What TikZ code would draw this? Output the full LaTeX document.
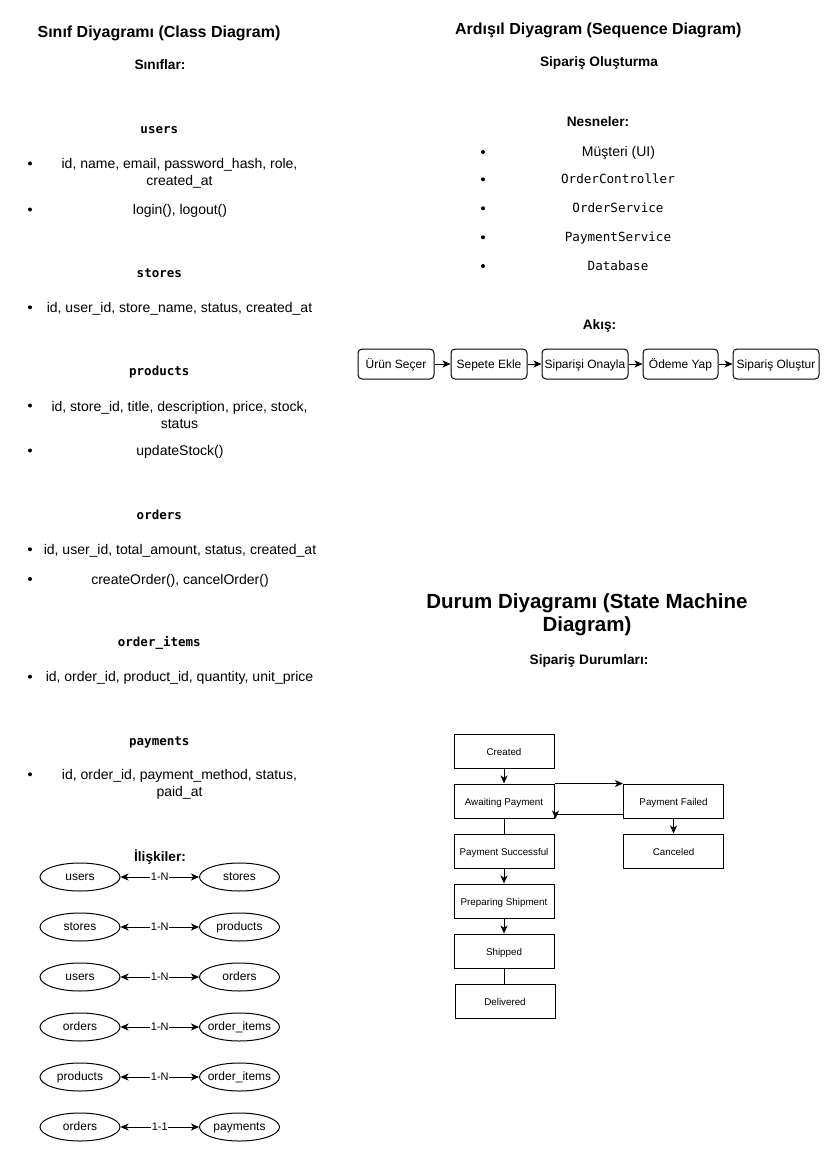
\documentclass[tikz,border=0pt]{standalone}
\usepackage{fontspec}
\setmainfont{Liberation Sans}
\setmonofont{DejaVu Sans Mono}
\usetikzlibrary{arrows.meta,shapes.geometric}
% zero-width box so that an ellipse keeps its own size around a long label
\newcommand{\entlabel}[1]{\makebox[0pt]{#1}}

\begin{document}
\begin{tikzpicture}[x=1pt,y=-1pt,line width=1pt,
  >={Stealth[length=8pt,width=7pt,inset=2.2pt]},
  heading/.style={font=\bfseries\fontsize{16}{19}\selectfont,text height=11.5pt,text depth=3.5pt,inner sep=0pt,yshift=-1.5pt},
  bighead/.style={font=\bfseries\fontsize{20.5}{22.5}\selectfont,align=center,inner sep=0pt,yshift=-2pt},
  subhead/.style={font=\bfseries\fontsize{13.7}{16.5}\selectfont,text height=10pt,text depth=3pt,inner sep=0pt,yshift=-1.5pt},
  classname/.style={font=\ttfamily\bfseries\fontsize{12.5}{15}\selectfont,text height=9pt,text depth=2.5pt,inner sep=0pt,yshift=-1.2pt},
  item/.style={font=\fontsize{14}{17}\selectfont,align=center,inner sep=0pt,yshift=-1.5pt},
  dot/.style={circle,fill=black,draw=none,inner sep=0pt,minimum size=4pt},
  objname/.style={font=\ttfamily\fontsize{12.6}{15}\selectfont,text height=9pt,text depth=2.5pt,inner sep=0pt,yshift=-1pt},
  flowbox/.style={draw,rounded corners=4pt,minimum height=30pt,inner xsep=1pt,font=\fontsize{12}{14}\selectfont,text height=9.6pt,text depth=1.5pt},
  statebox/.style={draw,minimum width=100pt,minimum height=34pt,inner sep=1pt,font=\fontsize{9.8}{12}\selectfont,text height=9pt,text depth=0pt},
  entity/.style={ellipse,draw,minimum width=80pt,minimum height=28pt,inner sep=0pt,font=\fontsize{12}{14}\selectfont,text height=9.2pt,text depth=1.9pt},
  card/.style={fill=white,inner sep=0.6pt,font=\fontsize{11}{13}\selectfont,text height=8pt,text depth=0.5pt}]

\fill[white] (0,0) rectangle (827,1169);
\useasboundingbox (0,0) rectangle (827,1169);

% ---------------- Class diagram ----------------
\node[heading] (ctitle) at (159,32) {Sınıf Diyagramı (Class Diagram)};
\node[subhead] (csub) at (160,65) {Sınıflar:};

\node[classname] (kusers) at (159.3,129.3) {users};
\node[dot] (b1) at (30,163.5) {};
\node[item] (i1) at (179.5,171.5) {id, name, email, password\_hash, role,\\created\_at};
\node[dot] (b2) at (30,209.5) {};
\node[item] (i2) at (180,209.5) {login(), logout()};

\node[classname] (kstores) at (159.3,273.5) {stores};
\node[dot] (b3) at (30,307.3) {};
\node[item] (i3) at (179.5,307.3) {id, user\_id, store\_name, status, created\_at};

\node[classname] (kproducts) at (159.3,371.5) {products};
\node[dot] (b4) at (30,405.5) {};
\node[item] (i4) at (179.5,413.8) {id, store\_id, title, description, price, stock,\\status};
\node[dot] (b5) at (30,450.5) {};
\node[item] (i5) at (180,450.5) {updateStock()};

\node[classname] (korders) at (159.3,515.5) {orders};
\node[dot] (b6) at (30,549.3) {};
\node[item] (i6) at (180,549.3) {id, user\_id, total\_amount, status, created\_at};
\node[dot] (b7) at (30,579) {};
\node[item] (i7) at (180,579) {createOrder(), cancelOrder()};

\node[classname] (kitems) at (159.3,642.5) {order\_items};
\node[dot] (b8) at (30,676.7) {};
\node[item] (i8) at (179.5,676.7) {id, order\_id, product\_id, quantity, unit\_price};

\node[classname] (kpay) at (159.3,741) {payments};
\node[dot] (b9) at (30,774.3) {};
\node[item] (i9) at (179.5,783) {id, order\_id, payment\_method, status,\\paid\_at};

% relations
\node[subhead] (rsub) at (160,856) {İlişkiler:};

\node[entity] (l1) at (80,877) {\entlabel{users}};
\node[entity] (r1) at (239.5,877) {\entlabel{stores}};
\node[entity] (l2) at (80,927) {\entlabel{stores}};
\node[entity] (r2) at (239.5,927) {\entlabel{products}};
\node[entity] (l3) at (80,977) {\entlabel{users}};
\node[entity] (r3) at (239.5,977) {\entlabel{orders}};
\node[entity] (l4) at (80,1027) {\entlabel{orders}};
\node[entity] (r4) at (239.5,1027) {\entlabel{order\_items}};
\node[entity] (l5) at (80,1077) {\entlabel{products}};
\node[entity] (r5) at (239.5,1077) {\entlabel{order\_items}};
\node[entity] (l6) at (80,1127) {\entlabel{orders}};
\node[entity] (r6) at (239.5,1127) {\entlabel{payments}};

\draw[<->] (l1) -- node[card] {1-N} (r1);
\draw[<->] (l2) -- node[card] {1-N} (r2);
\draw[<->] (l3) -- node[card] {1-N} (r3);
\draw[<->] (l4) -- node[card] {1-N} (r4);
\draw[<->] (l5) -- node[card] {1-N} (r5);
\draw[<->] (l6) -- node[card] {1-1} (r6);

% ---------------- Sequence diagram ----------------
\node[heading] (stitle) at (598.3,29.5) {Ardışıl Diyagram (Sequence Diagram)};
\node[subhead] (ssub) at (599,62) {Sipariş Oluşturma};
\node[subhead] (nsub) at (598,122) {Nesneler:};

\node[dot] (n1) at (483,152) {};
\node[item] (o1) at (618.5,151.5) {Müşteri (UI)};
\node[dot] (n2) at (483,179.3) {};
\node[objname] (o2) at (618,179) {OrderController};
\node[dot] (n3) at (483,208.3) {};
\node[objname] (o3) at (618,208) {OrderService};
\node[dot] (n4) at (483,237.3) {};
\node[objname] (o4) at (618,237) {PaymentService};
\node[dot] (n5) at (483,266) {};
\node[objname] (o5) at (618,266) {Database};

\node[subhead] (asub) at (599.5,324.5) {Akış:};

\node[flowbox,minimum width=76pt] (f1) at (396,364) {Ürün Seçer};
\node[flowbox,minimum width=76pt] (f2) at (489,364) {Sepete Ekle};
\node[flowbox,minimum width=86pt] (f3) at (585,364) {Siparişi Onayla};
\node[flowbox,minimum width=75pt] (f4) at (680.5,364) {Ödeme Yap};
\node[flowbox,minimum width=86pt] (f5) at (776,364) {Sipariş Oluştur};

\draw[->] (f1) -- (f2);
\draw[->] (f2) -- (f3);
\draw[->] (f3) -- (f4);
\draw[->] (f4) -- (f5);

% ---------------- State machine diagram ----------------
\node[bighead] (mtitle) at (587,612.5) {Durum Diyagramı (State Machine\\Diagram)};
\node[subhead] (msub) at (589,659) {Sipariş Durumları:};

\node[statebox] (cr) at (504,751) {Created};
\node[statebox] (aw) at (504,801) {Awaiting Payment};
\node[statebox] (ps) at (504,851) {Payment Successful};
\node[statebox] (pr) at (504,901) {Preparing Shipment};
\node[statebox] (sh) at (504,951) {Shipped};
\node[statebox] (de) at (505,1001) {Delivered};
\node[statebox] (pf) at (673.5,801) {Payment Failed};
\node[statebox] (ca) at (673.5,851) {Canceled};

\draw[->] (cr) -- (aw);
\draw[->] (aw.north east) -- (pf.north west);
\draw[->] ([yshift=4pt]pf.south west) -| ([xshift=1pt]aw.south east);
\draw (aw) -- (ps);
\draw[->] (ps) -- (pr);
\draw[->] (pf) -- (ca);
\draw[->] (pr) -- (sh);
\draw (sh.south) -- (sh.south |- de.north);
\end{tikzpicture}
\end{document}
